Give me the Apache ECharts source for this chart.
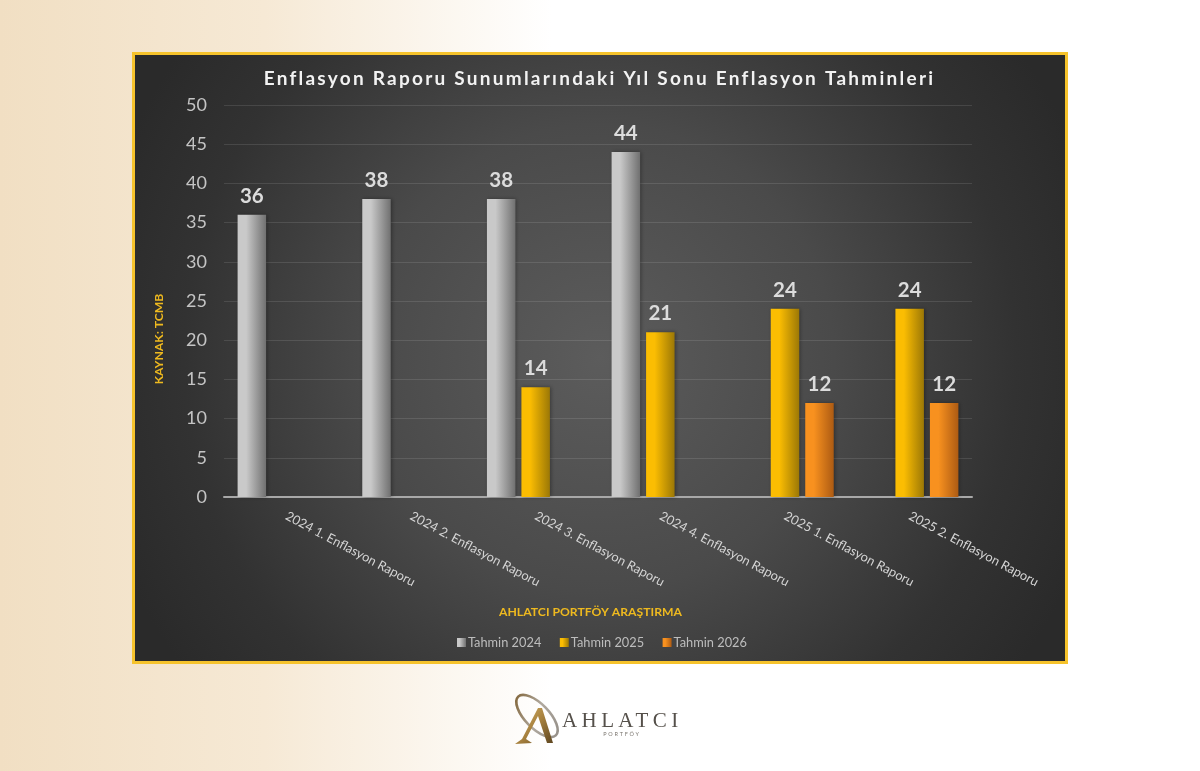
<!DOCTYPE html>
<html><head><meta charset="utf-8">
<style>html,body{margin:0;padding:0;background:#fff}#c{width:1200px;height:771px}</style>
<script src="https://cdn.jsdelivr.net/npm/echarts@6/dist/echarts.min.js"></script>
</head><body><div id="c"></div>
<script>
const chartTitle = 'Enflasyon Raporu Sunumlarındaki Yıl Sonu Enflasyon Tahminleri';
const categories = ['2024 1. Enflasyon Raporu','2024 2. Enflasyon Raporu','2024 3. Enflasyon Raporu','2024 4. Enflasyon Raporu','2025 1. Enflasyon Raporu','2025 2. Enflasyon Raporu'];
const tahmin2024 = [36,38,38,44,null,null];
const tahmin2025 = [null,null,14,21,24,24];
const tahmin2026 = [null,null,null,null,12,12];
const yTicks = {min:0,max:50,interval:5};

// letter spacing for the title and the logo wordmark
const spaced = {[chartTitle]:'2.25px','AHLATCI':'4.4px','PORTFÖY':'1.8px'};
const origFill = CanvasRenderingContext2D.prototype.fillText;
CanvasRenderingContext2D.prototype.fillText = function(t,x,y,m){
  const s = spaced[t];
  if(s){const o=this.letterSpacing;this.letterSpacing=s;origFill.call(this,t,x,y);this.letterSpacing=o;return;}
  return m===undefined?origFill.call(this,t,x,y):origFill.call(this,t,x,y,m);
};

const LG = echarts.graphic.LinearGradient, RG = echarts.graphic.RadialGradient;
const hGrad = (a,b)=>new LG(0,0,1,0,[{offset:0,color:a},{offset:.3,color:a},{offset:1,color:b}]);
const font = 'Lato, "Open Sans", sans-serif';

function bar(name,data,a,b){
  return {name,type:'bar',data,barWidth:28.5,barGap:'21%',
    itemStyle:{color:hGrad(a,b),shadowColor:'rgba(0,0,0,.35)',shadowBlur:4,shadowOffsetX:1,shadowOffsetY:0},
    label:{show:true,position:'top',distance:8,color:'#dcdcdc',fontFamily:font,fontWeight:'bold',fontSize:20.5}};
}
const chart = echarts.init(document.getElementById('c'),null,{width:1200,height:771,renderer:'canvas'});
chart.setOption({
  animation:false,
  backgroundColor:new LG(0,0,1,0,[{offset:0,color:'#f1dfc3'},{offset:.22,color:'#f6e9d5'},{offset:.46,color:'#ffffff'},{offset:1,color:'#ffffff'}]),
  title:{text:chartTitle,left:594.5,top:64,textAlign:'center',
    textStyle:{color:'#f2f2f2',fontFamily:font,fontWeight:'bold',fontSize:19}},
  grid:{left:224,right:228,top:105,bottom:274,containLabel:false},
  legend:{left:452,top:631,itemWidth:9,itemHeight:9,itemGap:18.5,icon:'rect',
    textStyle:{color:'#bdbdbd',fontFamily:font,fontSize:12.8,padding:[0,0,0,-3]},
    data:['Tahmin 2024','Tahmin 2025','Tahmin 2026']},
  xAxis:{type:'category',data:categories,
    axisLine:{lineStyle:{color:'#a8a8a8',width:2}},axisTick:{show:false},
    axisLabel:{interval:0,rotate:-28,margin:18,color:'#d4d4d4',fontFamily:font,fontSize:12.8}},
  yAxis:{type:'value',min:yTicks.min,max:yTicks.max,interval:yTicks.interval,
    axisLine:{show:false},axisTick:{show:false},
    axisLabel:{margin:17,color:'#c4c4c4',fontFamily:font,fontSize:18,padding:[4,0,0,0]},
    splitLine:{lineStyle:{color:'rgba(255,255,255,.11)',width:1}}},
  series:[
    bar('Tahmin 2024',tahmin2024,'#c9c9c9','#707070'),
    bar('Tahmin 2025',tahmin2025,'#fbbd02','#9c7806'),
    bar('Tahmin 2026',tahmin2026,'#f8911f','#ad5b13')
  ],
  graphic:[
    {type:'rect',z:-10,shape:{x:133.5,y:53.5,width:933,height:609},
      style:{stroke:'#f6c32c',lineWidth:3,
        fill:new RG(.5,.5,.85,[{offset:0,color:'#5c5c5c'},{offset:.45,color:'#4a4a4a'},{offset:.8,color:'#323232'},{offset:1,color:'#2a2a2a'}])}},
    {type:'text',x:159,y:339,rotation:Math.PI/2,z:5,
      style:{text:'KAYNAK: TCMB',fill:'#eeb91f',font:'bold 12.2px '+font,align:'center',verticalAlign:'middle'}},
    {type:'text',x:590.5,y:612.5,z:5,
      style:{text:'AHLATCI PORTFÖY ARAŞTIRMA',fill:'#eeb91f',font:'bold 12.2px '+font,align:'center',verticalAlign:'middle'}},
    // logo
    {type:'ellipse',z:-5,x:537,y:716,originX:0,originY:0,rotation:-0.8,
      shape:{cx:0,cy:0,rx:27,ry:12},
      style:{fill:'none',stroke:new LG(1,0,0,1,[{offset:0,color:'#8f8a84'},{offset:.5,color:'#b0a99f'},{offset:1,color:'#7a5a28'}]),lineWidth:2.6}},
    {type:'polygon',z:-4,shape:{points:[[538,708],[542,708],[553,743],[547,743],[538,716],[526,739],[532,743],[515,744],[522,739]]},
      style:{fill:new LG(0,0,1,1,[{offset:0,color:'#d9b56a'},{offset:.5,color:'#a8823f'},{offset:1,color:'#5d4520'}])}},
    {type:'text',x:562,y:721,z:5,
      style:{text:'AHLATCI',fill:'#55504a',font:'21px "Liberation Serif", serif',align:'left',verticalAlign:'middle'}},
    {type:'text',x:622,y:734.5,z:5,
      style:{text:'PORTFÖY',fill:'#7a756e',font:'5.5px '+font,align:'center',verticalAlign:'middle'}}
  ]
});
</script></body></html>
